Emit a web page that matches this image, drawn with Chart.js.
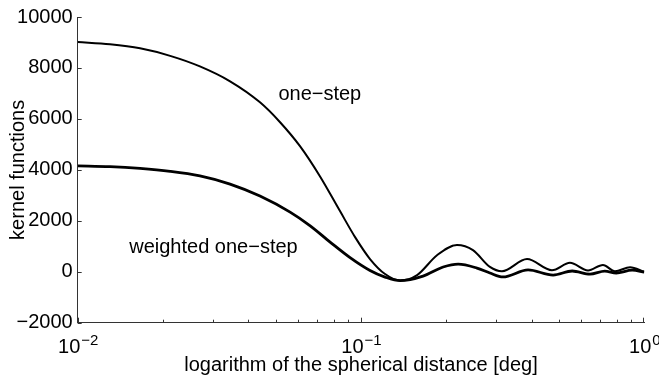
<!DOCTYPE html>
<html>
<head>
<meta charset="utf-8">
<script src="https://cdn.jsdelivr.net/npm/chart.js@4.4.1/dist/chart.umd.min.js"></script>
<style>
  html, body { margin: 0; padding: 0; background: #fff; }
  #wrap { width: 659px; height: 380px; }
</style>
</head>
<body>
<div id="wrap"><canvas id="chart"></canvas></div>
<script>
// values
const oneStepX = [0.0100, 0.0130, 0.0166, 0.0212, 0.0270, 0.0345, 0.0440, 0.0518, 0.0609, 0.0716,
  0.0843, 0.0953, 0.1076, 0.1216, 0.1374, 0.1578, 0.1855, 0.2182, 0.2484, 0.2851,
  0.3145, 0.3855, 0.4721, 0.5466, 0.6329, 0.7146, 0.7880, 0.8909, 1.0000];
const oneStepY = [9020, 8930, 8770, 8475, 8060, 7475, 6650, 5870, 4930, 3750,
  2380, 1360, 500, -90, -340, -130, 650, 1050, 850, 190,
  20, 500, 60, 350, 50, 265, 20, 180, 0];

const weightedX = [0.0100, 0.0130, 0.0166, 0.0212, 0.0270, 0.0345, 0.0440, 0.0562, 0.0660, 0.0778,
  0.0915, 0.1076, 0.1216, 0.1374, 0.1656, 0.1950, 0.2203, 0.2566, 0.2851, 0.3170,
  0.3888, 0.4766, 0.5565, 0.6431, 0.7254, 0.7962, 0.9059, 1.0000];
const weightedY = [4155, 4125, 4055, 3940, 3760, 3440, 2970, 2340, 1810, 1165,
  555, 50, -210, -350, -170, 185, 300, 145, -50, -205,
  70, -130, 30, -95, 25, -50, 60, -10];

const yTicks = [-2000, 0, 2000, 4000, 6000, 8000, 10000];
const xTicks = [0.01, 0.1, 1];
const xTickExp = ["\u22122", "\u22121", "0"];
const seriesNames = ["one\u2212step", "weighted one\u2212step"];

const FONT = "'Liberation Sans', Arial, sans-serif";

const toPoints = (xs, ys) => xs.map((x, i) => ({ x: x, y: ys[i] }));

// tick marks pointing inward, superscript x labels, text labels on the curves
const axisDecor = {
  id: "axisDecor",
  afterDraw(chart) {
    const ctx = chart.ctx;
    const xs = chart.scales.x;
    const ys = chart.scales.y;
    const area = chart.chartArea;

    ctx.save();
    ctx.strokeStyle = "#333";
    ctx.lineWidth = 1;
    ctx.beginPath();
    yTicks.forEach((v) => {
      const py = Math.round(ys.getPixelForValue(v)) + 0.5;
      ctx.moveTo(area.left, py);
      ctx.lineTo(area.left + 4, py);
    });
    for (let d = -2; d < 0; d++) {
      for (let m = 1; m <= 9; m++) {
        const px = Math.round(xs.getPixelForValue(m * Math.pow(10, d))) + 0.5;
        const len = m === 1 ? 5 : 3;
        ctx.moveTo(px, area.bottom);
        ctx.lineTo(px, area.bottom - len);
      }
    }
    const pEnd = Math.round(xs.getPixelForValue(1)) - 0.5;
    ctx.moveTo(pEnd, area.bottom);
    ctx.lineTo(pEnd, area.bottom - 5);
    ctx.stroke();

    // x tick labels: 10 with exponent
    ctx.fillStyle = "#000";
    ctx.textBaseline = "alphabetic";
    ctx.textAlign = "left";
    xTicks.forEach((v, i) => {
      const px = xs.getPixelForValue(v);
      ctx.font = "20px " + FONT;
      const wBase = ctx.measureText("10").width;
      ctx.font = "15px " + FONT;
      const wExp = ctx.measureText(xTickExp[i]).width;
      const x0 = px - (wBase + wExp) / 2;
      const base = area.bottom + 30;
      ctx.font = "20px " + FONT;
      ctx.fillText("10", x0, base);
      ctx.font = "15px " + FONT;
      ctx.fillText(xTickExp[i], x0 + wBase + 1, base - 8);
    });

    // curve labels
    ctx.font = "20px " + FONT;
    ctx.fillText(seriesNames[0], xs.getPixelForValue(0.0511), ys.getPixelForValue(6730));
    ctx.fillText(seriesNames[1], xs.getPixelForValue(0.0152), ys.getPixelForValue(720));
    ctx.restore();
  },
};

new Chart(document.getElementById("chart"), {
  type: "line",
  data: {
    datasets: [
      {
        label: seriesNames[0],
        data: toPoints(oneStepX, oneStepY),
        borderColor: "#000",
        borderWidth: 2,
        pointRadius: 0,
        cubicInterpolationMode: "monotone",
        fill: false,
      },
      {
        label: seriesNames[1],
        data: toPoints(weightedX, weightedY),
        borderColor: "#000",
        borderWidth: 2.8,
        pointRadius: 0,
        cubicInterpolationMode: "monotone",
        fill: false,
      },
    ],
  },
  options: {
    responsive: true,
    maintainAspectRatio: false,
    animation: false,
    layout: { padding: { top: 16.7, right: 14.7, bottom: 0, left: 0 } },
    plugins: {
      legend: { display: false },
      tooltip: { enabled: false },
    },
    scales: {
      x: {
        type: "logarithmic",
        min: 0.01,
        max: 1,
        grid: { display: false, drawTicks: false },
        border: { display: true, color: "#333", width: 1 },
        ticks: { display: false },
        title: {
          display: true,
          text: "logarithm of the spherical distance [deg]",
          color: "#000",
          font: { family: FONT, size: 20 },
          padding: { top: 0, bottom: 3 },
        },
        afterFit: (scale) => { scale.height = 57.3; },
      },
      y: {
        min: -2000,
        max: 10000,
        grid: { display: false, drawTicks: false },
        border: { display: true, color: "#333", width: 1 },
        afterBuildTicks: (scale) => { scale.ticks = yTicks.map((v) => ({ value: v })); },
        ticks: {
          color: "#000",
          padding: 5,
          font: { family: FONT, size: 20 },
          callback: (v) => (v < 0 ? "\u2212" + Math.abs(v) : String(v)),
        },
        title: {
          display: true,
          text: "kernel functions",
          color: "#000",
          font: { family: FONT, size: 20 },
          padding: { top: 6, bottom: 0 },
        },
        afterFit: (scale) => { scale.width = 77.7; },
      },
    },
  },
  plugins: [axisDecor],
});
</script>
</body>
</html>
